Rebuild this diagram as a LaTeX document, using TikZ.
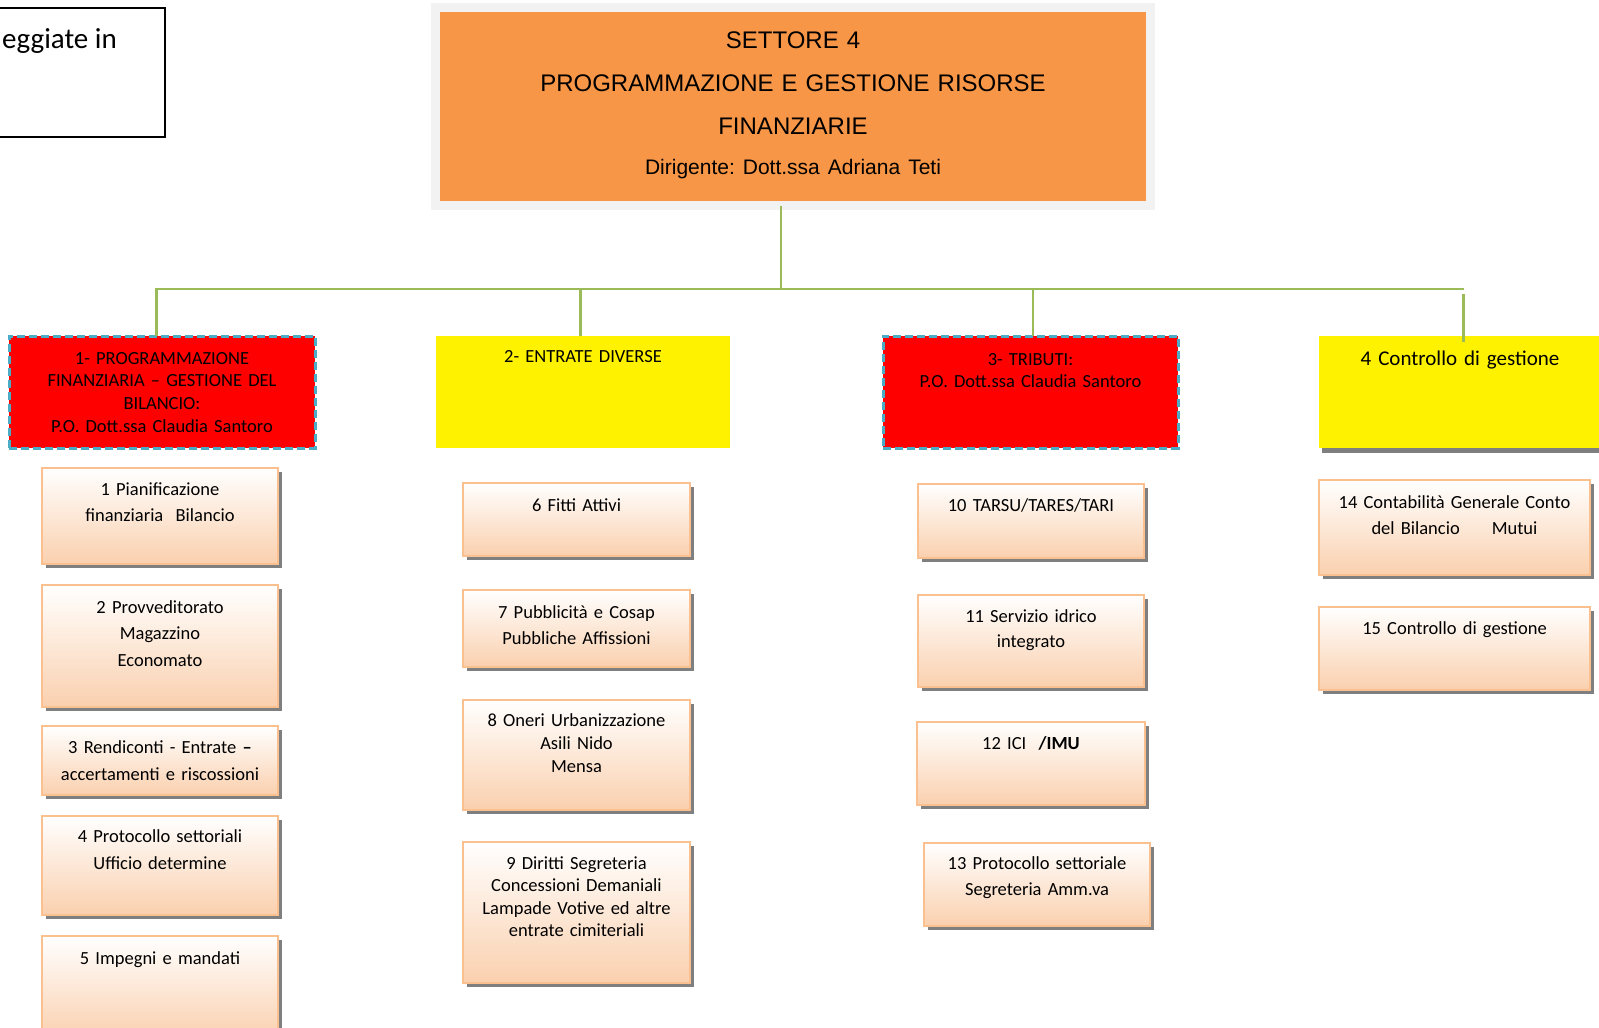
\documentclass[tikz,border=0pt]{standalone}
\usepackage{fontspec}
\setmainfont{Carlito}
\newfontfamily\arialf{Liberation Sans}
\usetikzlibrary{shadows}
\frenchspacing
\definecolor{topor}{HTML}{F79646}
\definecolor{frameg}{HTML}{F2F2F2}
\definecolor{conng}{HTML}{9BBB59}
\definecolor{dashb}{HTML}{4BACC6}
\definecolor{peach}{HTML}{FAD0AE}
\definecolor{peachb}{HTML}{FAC090}
\definecolor{shad}{HTML}{7F7F7F}
\newcommand\mkbox[8]{%
  \pgfmathsetmacro\cbW{#5-#3}\pgfmathsetmacro\cbH{#7-#4}\pgfmathsetmacro\cbD{#6-#7}%
  \node[#1, text width=\cbW pt, text height=\cbH pt, text depth=\cbD pt] (#2) at (#3,#4) {#8};}
\tikzset{
  base/.style={anchor=north west, inner sep=0pt, outer sep=0pt, align=center},
  topbox/.style={base, fill=topor, draw=frameg, line width=9pt, font=\arialf\fontsize{24}{43}\selectfont},
  redbox/.style={base, fill=red, draw=dashb, line width=3pt, dash pattern=on 8pt off 4pt, font=\fontsize{18.5}{22.8}\selectfont},
  yelbox/.style={base, fill=yellow, font=\fontsize{18.5}{22.8}\selectfont},
  childbox/.style={base, draw=peachb, line width=2.5pt, top color=white, bottom color=peach,
     general shadow={fill=shad, shadow xshift=4pt, shadow yshift=-4pt}, font=\fontsize{18.5}{26.5}\selectfont},
  conn/.style={draw=conng, line width=2.3pt},
}
\begin{document}
\begin{tikzpicture}[x=1pt, y=-1pt]
\useasboundingbox (0,0) rectangle (1599,1028);
\fill[white] (0,0) rectangle (1599,1028);

% top-left partial box
\node[base, draw=black, line width=1.6pt, minimum width=175pt, minimum height=129pt] (tl) at (-10,8) {};
\node[anchor=base east, inner sep=0pt, font=\fontsize{29}{35}\selectfont] (tltxt) at (117,48) {eggiate in};

% top box
\mkbox{topbox}{top}{435.5}{7.5}{1150.5}{205.5}{48.6}{SETTORE 4\\PROGRAMMAZIONE E GESTIONE RISORSE\\FINANZIARIE\\[-3.5pt]{\fontsize{21}{41}\selectfont Dirigente: Dott.ssa Adriana Teti}}

% level 2
\mkbox{redbox}{L1}{9}{336}{315}{448}{364}{1- PROGRAMMAZIONE\\FINANZIARIA – GESTIONE DEL\\BILANCIO:\\P.O. Dott.ssa Claudia Santoro}
\mkbox{yelbox}{L2}{436}{336}{730}{448}{362}{2- ENTRATE DIVERSE}
\mkbox{redbox}{L3}{883}{336}{1178}{448}{365}{3- TRIBUTI:\\P.O. Dott.ssa Claudia Santoro}
\mkbox{yelbox, general shadow={fill=shad, shadow xshift=3pt, shadow yshift=-5pt}, font=\fontsize{21}{25}\selectfont}{L4}{1319}{336}{1601}{448}{365}{4 Controllo di gestione}

% connectors
\coordinate (bus) at (0,289);
\coordinate (bus4) at (0,294);
\draw[conn] ([xshift=-12.3pt]top.south) -- ([xshift=-12.3pt]top.south |- bus);
\draw[conn] ([xshift=-5.5pt]L1.north) -- ([xshift=-5.5pt]L1.north |- bus) -- ([xshift=3.5pt]L4.north |- bus);
\draw[conn] ([xshift=-2.5pt]L2.north) -- ([xshift=-2.5pt]L2.north |- bus);
\draw[conn] ([xshift=2.5pt]L3.north) -- ([xshift=2.5pt]L3.north |- bus);
\draw[conn] ([xshift=3.5pt,yshift=-6pt]L4.north) -- ([xshift=3.5pt]L4.north |- bus4);

% column 1
\mkbox{childbox}{c1}{42}{468}{278}{564}{495}{1 Pianificazione\\finanziaria\ \ Bilancio}
\mkbox{childbox}{c2}{42}{585}{278}{707}{613}{2 Provveditorato\\Magazzino\\Economato}
\mkbox{childbox}{c3}{42}{726}{278}{795}{753.5}{3 Rendiconti - Entrate \textbf{–}\\accertamenti e riscossioni}
\mkbox{childbox}{c4}{42}{816}{278}{915}{842.5}{4 Protocollo settoriali\\Ufficio determine}
\mkbox{childbox}{c5}{42}{936}{278}{1040}{964}{5 Impegni e mandati}

% column 2
\mkbox{childbox}{c6}{463}{483}{690}{556}{511}{6 Fitti Attivi}
\mkbox{childbox}{c7}{463}{590}{690}{667}{618}{7 Pubblicità e Cosap\\Pubbliche Affissioni}
\mkbox{childbox, font=\fontsize{18.5}{23}\selectfont}{c8}{463}{700}{690}{810}{726}{8 Oneri Urbanizzazione\\Asili Nido\\Mensa}
\mkbox{childbox, font=\fontsize{18.5}{22.5}\selectfont}{c9}{463}{842}{690}{983}{869}{9 Diritti Segreteria\\Concessioni Demaniali\\Lampade Votive ed altre\\entrate cimiteriali}

% column 3
\mkbox{childbox}{c10}{918}{484}{1144}{558}{511}{10 TARSU/TARES/TARI}
\mkbox{childbox, font=\fontsize{18.5}{25.5}\selectfont}{c11}{918}{595}{1144}{687}{622}{11 Servizio idrico\\integrato}
\mkbox{childbox}{c12}{917}{722}{1145}{805}{749}{12 ICI\ \ \textbf{/IMU}}
\mkbox{childbox}{c13}{924}{843}{1150}{926}{869}{13 Protocollo settoriale\\Segreteria Amm.va}

% column 4
\mkbox{childbox}{c14}{1319}{480}{1590}{575}{508}{14 Contabilità Generale Conto\\del Bilancio\hspace{32pt}Mutui}
\mkbox{childbox}{c15}{1319}{607}{1590}{690}{634}{15 Controllo di gestione}
\end{tikzpicture}
\end{document}
